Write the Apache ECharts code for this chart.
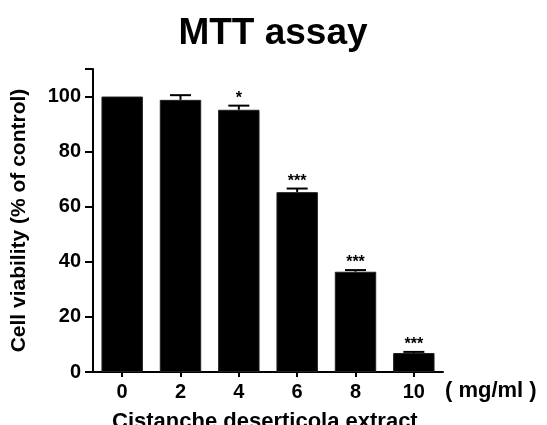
<!DOCTYPE html>
<html>
<head>
<meta charset="utf-8">
<script src="https://cdn.jsdelivr.net/npm/echarts@6/dist/echarts.min.js"></script>
<style>
  html, body { margin: 0; padding: 0; background: #fff; }
  #chart { width: 547px; height: 425px; }
</style>
</head>
<body>
<div id="chart"></div>
<script>
// doses (mg/ml), mean viability and upper error bar
const doses = ["0", "2", "4", "6", "8", "10"]
const viability = [100, 98.8, 95.2, 65.3, 36.4, 6.9]
const errorTop = [100, 100.5, 96.7, 66.6, 37.0, 7.3]
const stars = ["", "", "*", "***", "***", "***"]
const yTicks = [0, 20, 40, 60, 80, 100]

const font = "'Liberation Sans', Arial, sans-serif"

// error bar (upper whisker + cap) and significance stars, one item per dose
function renderError(params, api) {
  const i = api.value(0)
  const base = api.coord([i, api.value(1)])
  const top = api.coord([i, api.value(2)])
  const bandW = api.size([1, 0])[0]
  const capW = bandW * 0.36
  const children = []
  if (api.value(2) > api.value(1)) {
    children.push({
      type: "line",
      shape: { x1: base[0], y1: base[1], x2: top[0], y2: top[1] },
      style: { stroke: "#000", lineWidth: 2 }
    })
    children.push({
      type: "line",
      shape: { x1: top[0] - capW / 2, y1: top[1], x2: top[0] + capW / 2, y2: top[1] },
      style: { stroke: "#000", lineWidth: 2 }
    })
  }
  const s = stars[i]
  if (s) {
    children.push({
      type: "text",
      x: top[0],
      y: top[1] + 1,
      style: {
        text: s,
        fill: "#000",
        font: "bold 16px " + font,
        align: "center",
        verticalAlign: "bottom"
      }
    })
  }
  return { type: "group", children }
}

const chart = echarts.init(document.getElementById("chart"))
chart.setOption({
  animation: false,
  title: {
    text: "MTT assay",
    left: 268,
    textAlign: "center",
    top: 10,
    textStyle: { fontFamily: font, fontWeight: "bold", fontSize: 37, color: "#000" }
  },
  grid: { left: 93, right: 104, top: 69, bottom: 53 },
  xAxis: {
    type: "category",
    data: doses,
    axisLine: { lineStyle: { color: "#000", width: 2 } },
    axisTick: { show: true, alignWithLabel: true, length: 5, lineStyle: { color: "#000", width: 2 } },
    axisLabel: { color: "#000", fontFamily: font, fontWeight: "bold", fontSize: 20, margin: 10 },
    name: "( mg/ml )",
    nameLocation: "end",
    nameGap: 2,
    nameTextStyle: {
      color: "#000", fontFamily: font, fontWeight: "bold", fontSize: 22,
      align: "left", verticalAlign: "top", padding: [8, 0, 0, 0]
    }
  },
  yAxis: {
    type: "value",
    min: 0,
    max: 110,
    interval: 20,
    axisLine: { show: true, lineStyle: { color: "#000", width: 2 } },
    axisTick: { show: true, length: 8, lineStyle: { color: "#000", width: 2 } },
    splitLine: { show: false },
    axisLabel: {
      color: "#000", fontFamily: font, fontWeight: "bold", fontSize: 20, margin: 12,
      formatter: (v) => (yTicks.includes(v) ? String(v) : "")
    },
    name: "Cell viability (% of control)",
    nameLocation: "middle",
    nameGap: 63,
    nameTextStyle: { color: "#000", fontFamily: font, fontWeight: "bold", fontSize: 21 }
  },
  graphic: [{
    type: "text",
    left: 112,
    top: 411,
    style: {
      text: "Cistanche deserticola extract",
      fill: "#000",
      font: "bold 22px " + font
    }
  }],
  series: [
    {
      type: "bar",
      data: viability,
      barWidth: "71%",
      itemStyle: { color: "#000", borderColor: "#222", borderWidth: 1 }
    },
    {
      type: "custom",
      renderItem: renderError,
      encode: { x: 0, y: 2 },
      data: doses.map((d, i) => [i, viability[i], errorTop[i]]),
      z: 5
    }
  ]
})
</script>
</body>
</html>
